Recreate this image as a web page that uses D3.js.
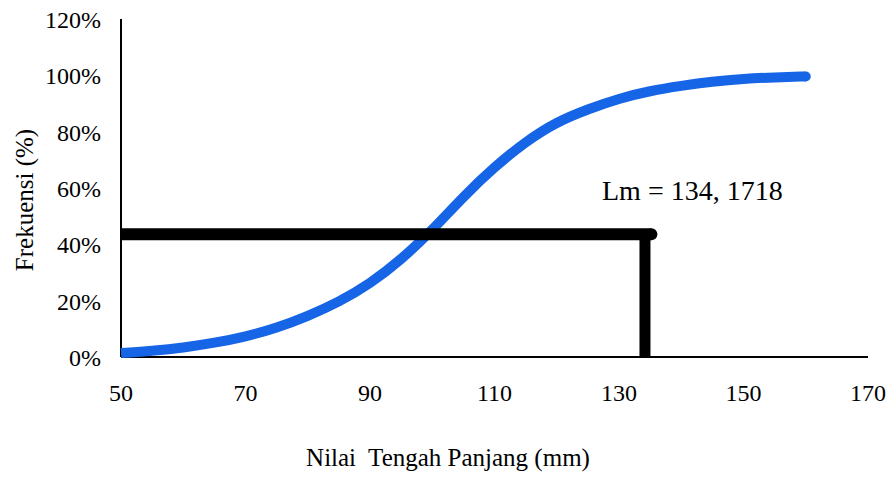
<!DOCTYPE html>
<html>
<head>
<meta charset="utf-8">
<script src="https://d3js.org/d3.v7.min.js"></script>
<style>
  body { margin: 0; background: #fff; }
  text { font-family: "Liberation Serif", "Times New Roman", serif; fill: #000; }
</style>
</head>
<body>
<div id="chart"></div>
<script>
// Middle length (mm) and cumulative frequency (%)
var lengths = [50, 55, 60, 65, 70, 75, 80, 85, 90, 95, 100, 105, 110, 115, 120, 125, 130, 135, 140, 145, 150, 155, 160]
var freq = [1.4, 2.2, 3.3, 5.0, 7.2, 10.3, 14.5, 19.5, 26, 34.5, 45, 57, 67.5, 76.5, 83.5, 88, 91.8, 94.5, 96.3, 97.8, 98.8, 99.3, 99.6]
var xTicks = [50, 70, 90, 110, 130, 150, 170]
var yTicks = [0, 20, 40, 60, 80, 100, 120]
// Lm guide lines
var lm = 134.1718
var lmFreq = 43.6
var hLineEnd = 135.2

var width = 892, height = 477;

var svg = d3.select("#chart").append("svg")
    .attr("width", width)
    .attr("height", height);

var x = d3.scaleLinear().domain([50, 170]).range([121, 868]);
var y = d3.scaleLinear().domain([0, 120]).range([357, 19]);

// axes lines (no tick marks in the original)
svg.append("line")
    .attr("x1", x(50)).attr("x2", x(50))
    .attr("y1", y(0)).attr("y2", y(120))
    .attr("stroke", "#000").attr("stroke-width", 2);
svg.append("line")
    .attr("x1", x(50)).attr("x2", x(170))
    .attr("y1", y(0)).attr("y2", y(0))
    .attr("stroke", "#000").attr("stroke-width", 2);

svg.selectAll(".ylab")
    .data(yTicks)
    .enter().append("text")
    .attr("class", "ylab")
    .attr("x", 101)
    .attr("y", function(d) { return y(d) + 9 })
    .attr("text-anchor", "end")
    .style("font-size", "24px")
    .text(function(d) { return d + "%" });

svg.selectAll(".xlab")
    .data(xTicks)
    .enter().append("text")
    .attr("class", "xlab")
    .attr("x", function(d) { return x(d) })
    .attr("y", 401)
    .attr("text-anchor", "middle")
    .style("font-size", "24px")
    .text(function(d) { return d });

// axis titles
svg.append("text")
    .attr("x", 448)
    .attr("y", 466)
    .attr("text-anchor", "middle")
    .style("font-size", "25px")
    .style("white-space", "pre")
    .text("Nilai  Tengah Panjang (mm)");
svg.append("text")
    .attr("transform", "translate(33,200) rotate(-90)")
    .attr("text-anchor", "middle")
    .style("font-size", "25px")
    .text("Frekuensi (%)");

// curve (flat start at the axis, rounded end)
var pts = lengths.map(function(d, i) { return [d, freq[i]] });
var line = d3.line()
    .x(function(d) { return x(d[0]) })
    .y(function(d) { return y(d[1]) })
    .curve(d3.curveBasis);
svg.append("path")
    .datum(pts)
    .attr("d", line)
    .attr("fill", "none")
    .attr("stroke", "#1565e6")
    .attr("stroke-width", 10);
var last = pts[pts.length - 1];
svg.append("circle")
    .attr("cx", x(last[0]))
    .attr("cy", y(last[1]))
    .attr("r", 5)
    .attr("fill", "#1565e6");

// Lm guide lines
svg.append("line")
    .attr("x1", x(lm)).attr("x2", x(lm))
    .attr("y1", y(0)).attr("y2", y(lmFreq))
    .attr("stroke", "#000").attr("stroke-width", 11);
svg.append("line")
    .attr("x1", x(50)).attr("x2", x(hLineEnd))
    .attr("y1", y(lmFreq)).attr("y2", y(lmFreq))
    .attr("stroke", "#000").attr("stroke-width", 12);
// rounded right end
svg.append("circle")
    .attr("cx", x(hLineEnd))
    .attr("cy", y(lmFreq))
    .attr("r", 6)
    .attr("fill", "#000");

svg.append("text")
    .attr("x", 602)
    .attr("y", 200)
    .style("font-size", "28px")
    .text("Lm = 134, 1718");
</script>
</body>
</html>
